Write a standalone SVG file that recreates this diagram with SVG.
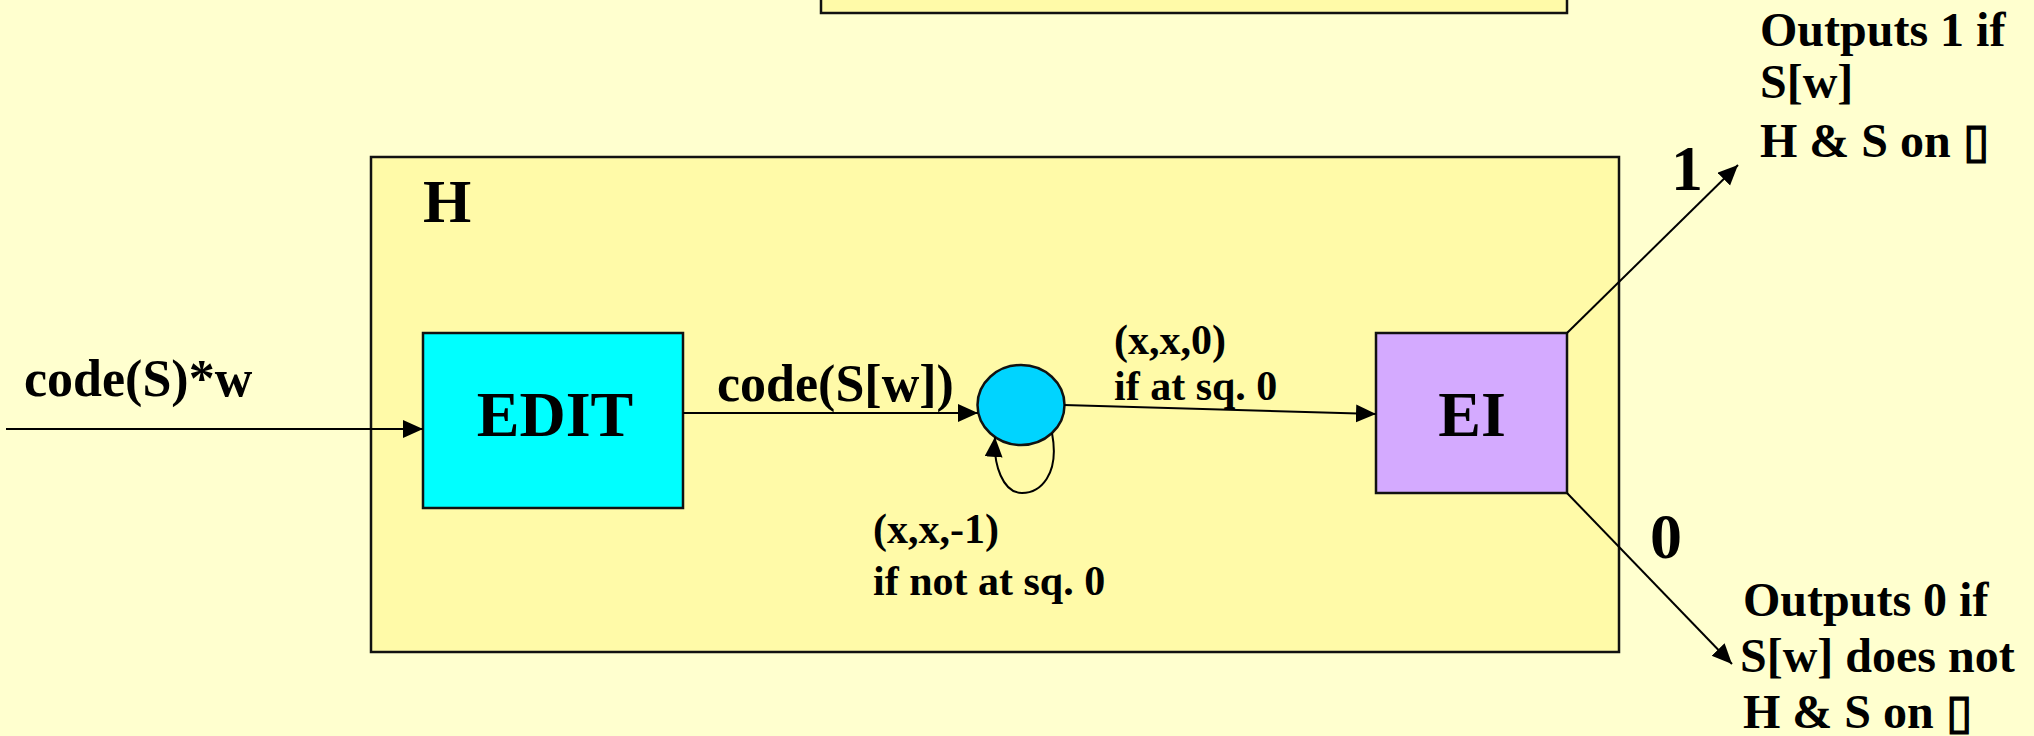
<svg xmlns="http://www.w3.org/2000/svg" width="2034" height="736" viewBox="0 0 2034 736">
<style>
.t{font-family:"Liberation Serif","Times New Roman",serif;font-weight:bold;fill:#000}
.box{stroke:#111;stroke-width:2.5}
.ln{stroke:#000;stroke-width:2;fill:none}
</style>
<defs>
<marker id="ah" markerUnits="userSpaceOnUse" markerWidth="22" markerHeight="20" refX="20" refY="9" orient="auto">
<path d="M0,0 L20,9 L0,18 z" fill="#000"/>
</marker>
</defs>
<rect x="0" y="0" width="2034" height="736" fill="#ffffcf"/>
<g id="topbox"><rect class="box" x="821" y="-10" width="746" height="23" fill="#fffaa8"/></g>
<g id="H"><rect class="box" x="371" y="157" width="1248" height="495" fill="#fffaa8"/>
<text class="t" x="423" y="222" font-size="62">H</text></g>
<g id="EDIT"><rect class="box" x="423" y="333" width="260" height="175" fill="#00ffff"/>
<text class="t" x="555" y="436" font-size="64" text-anchor="middle">EDIT</text></g>
<g id="state"><ellipse class="box" cx="1021" cy="405" rx="43.5" ry="40" fill="#00d4ff" stroke-width="2"/></g>
<g id="EI"><rect class="box" x="1376" y="333" width="191" height="160" fill="#d4aaff"/>
<text class="t" x="1472" y="436" font-size="64" text-anchor="middle">EI</text></g>
<g id="connectors">
<path class="ln" d="M6 429 L423 429" marker-end="url(#ah)"/>
<path class="ln" d="M683 413 L978 413" marker-end="url(#ah)"/>
<path class="ln" d="M1064 405 L1376 414" marker-end="url(#ah)"/>
<path class="ln" d="M1052 433 C1060 475 1040 493 1022 493 C1003 493 993 465 995 437" marker-end="url(#ah)"/>
<path class="ln" d="M1567 333 L1738 165" marker-end="url(#ah)"/>
<path class="ln" d="M1567 493 L1732 664" marker-end="url(#ah)"/>
</g>
<g id="labels">
<text class="t" x="24" y="396" font-size="52">code(S)*w</text>
<text class="t" x="717" y="401" font-size="52">code(S[w])</text>
<text class="t" x="1114" y="354" font-size="42">(x,x,0)</text>
<text class="t" x="1114" y="400" font-size="42">if at sq. 0</text>
<text class="t" x="873" y="543" font-size="42">(x,x,-1)</text>
<text class="t" x="873" y="595" font-size="42">if not at sq. 0</text>
<text class="t" x="1671" y="190" font-size="64">1</text>
<text class="t" x="1650" y="558" font-size="64">0</text>
<text class="t" font-size="48"><tspan x="1760" y="46">Outputs 1 if</tspan><tspan x="1760" y="98">S[w]</tspan><tspan x="1760" y="157">H &amp; S on ▯</tspan></text>
<text class="t" font-size="48"><tspan x="1743" y="616">Outputs 0 if</tspan><tspan x="1740" y="672">S[w] does not</tspan><tspan x="1743" y="728">H &amp; S on ▯</tspan></text>
</g>
</svg>
